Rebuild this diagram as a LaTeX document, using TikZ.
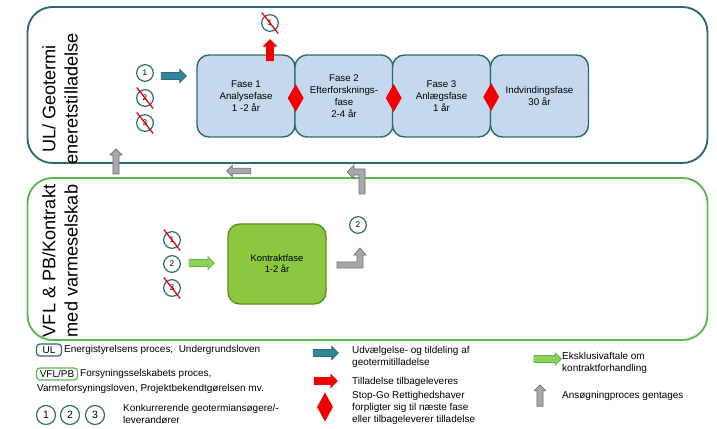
\documentclass[tikz,border=0pt]{standalone}
\usepackage{fontspec}
\setmainfont{Liberation Sans}
\usetikzlibrary{shapes.geometric,shapes.arrows,calc}

\definecolor{ulteal}{RGB}{45,106,112}
\definecolor{arrowteal}{RGB}{49,133,155}
\definecolor{phaseblue}{RGB}{198,216,238}
\definecolor{vflgreen}{RGB}{92,182,84}
\definecolor{kontraktgreen}{RGB}{141,198,63}
\definecolor{kontraktedge}{RGB}{84,150,46}
\definecolor{arrowgreen}{RGB}{146,208,80}
\definecolor{stopred}{RGB}{240,0,0}
\definecolor{repgray}{RGB}{168,168,172}
\definecolor{repedge}{RGB}{112,112,118}

\begin{document}
\begin{tikzpicture}[x=0.03cm,y=-0.03cm,
  frame/.style={rounded corners=7.5mm,line width=1.6pt,minimum width=20.4cm},
  sidelabel/.style={rotate=90,align=center,font=\fontsize{15.5}{19}\selectfont},
  phase/.style={draw=ulteal,line width=1.2pt,fill=phaseblue,rounded corners=3.6mm,minimum width=2.94cm,minimum height=2.46cm,align=center,font=\fontsize{8.3}{10.2}\selectfont},
  num/.style={circle,draw=ulteal,line width=1pt,fill=white,inner sep=0pt,minimum size=5mm,font=\fontsize{7}{7}\selectfont},
  legnum/.style={num,minimum size=5.7mm,font=\fontsize{9}{9}\selectfont},
  slash/.style={draw=stopred,line width=1.1pt},
  stopgo/.style={diamond,fill=stopred,inner sep=0pt,minimum width=4.8mm,minimum height=8.4mm},
  blockarrow/.style={single arrow,inner sep=0pt,text depth=0pt,line width=0.6pt},
  tealarrow/.style={blockarrow,fill=arrowteal,draw=ulteal,text height=1.9mm,single arrow head extend=0.9mm,minimum height=7.5mm},
  redarrow/.style={blockarrow,fill=stopred,text height=2.1mm,single arrow head extend=1.1mm,minimum height=6.6mm},
  greenarrow/.style={blockarrow,fill=arrowgreen,draw=vflgreen,text height=1.9mm,single arrow head extend=0.8mm,minimum height=7.5mm},
  grayarrow/.style={blockarrow,fill=repgray,draw=repedge,text height=1.6mm,single arrow head extend=0.9mm,minimum height=7.5mm},
  legbox/.style={rounded corners=1mm,line width=1pt,inner xsep=1.5pt,inner ysep=0pt,minimum height=3.6mm,font=\fontsize{8.5}{10}\selectfont},
  legtext/.style={anchor=west,inner sep=0pt,align=left,font=\fontsize{8.5}{10.2}\selectfont}]

\useasboundingbox (0,0) rectangle (717,429);

\node[frame,draw=ulteal,minimum height=4.68cm] (ulframe) at (367.5,85) {};
\node[frame,draw=vflgreen,minimum height=4.86cm] (vflframe) at (367.5,259) {};
\node[sidelabel] (ullabel) at (60,99) {UL/ Geotermi\\eneretstilladelse};
\node[sidelabel] (vfllabel) at (60,261) {VFL \& PB/Kontrakt\\med varmeselskab};

\node[phase] (fase1) at (246,96) {Fase 1\\Analysefase\\1 -2 år};
\node[phase] (fase2) at (344,96) {Fase 2\\Efterforsknings-\\fase\\2-4 år};
\node[phase] (fase3) at (441.5,96) {Fase 3\\Anlægsfase\\1 år};
\node[phase] (indv) at (539.5,96) {Indvindingsfase\\30 år};
\node[stopgo] (go1) at ($(fase1.east)+(0,2)$) {};
\node[stopgo] (go2) at ($(fase2.east)+(0,2)$) {};
\node[stopgo] (go3) at ($(fase3.east)+(0,1)$) {};

\node[num] (ul1) at (145,73) {1};
\node[num] (ul2) at (145,98) {2};
\node[num] (ul3) at (145,123) {3};
\node[tealarrow] (ulsel) at (172,76) {};
\node[num] (ulback) at (270,23) {1};
\node[redarrow,rotate=90] (ulret) at (270,52) {};

\node[num] (vfl1) at (172,240) {1};
\node[num] (vfl2) at (172,264) {2};
\node[num] (vfl3) at (172,288) {3};
\node[greenarrow] (vflsel) at (200,263) {};
\node[draw=kontraktedge,line width=1.2pt,fill=kontraktgreen,rounded corners=3.6mm,minimum width=2.94cm,minimum height=2.4cm,align=center,font=\fontsize{8}{9.5}\selectfont] (kontrakt) at (277,264) {Kontraktfase\\1-2 år};
\node[num] (vflnext) at (358,225) {2};

\foreach \c in {ul2,ul3,ulback,vfl1,vfl3}
  \draw[slash] ($(\c)+(128:0.4cm)$) -- ($(\c)+(-52:0.4cm)$);

\node[grayarrow,rotate=90] (repup) at (116,163) {};
\node[grayarrow,rotate=180,minimum height=7.2mm,text height=1.4mm] (repleft) at (240,171) {};
\draw[fill=repgray,draw=repedge,line width=0.6pt] (359,194) -- (365,194) -- (365,169) -- (354,169) -- (354,165) -- (347,172) -- (354,179) -- (354,175) -- (359,175) -- cycle;
\draw[fill=repgray,draw=repedge,line width=0.6pt] (337,262) -- (357,262) -- (357,255) -- (354,255) -- (360,248) -- (366,255) -- (363,255) -- (363,268) -- (337,268) -- cycle;

\node[legbox,draw=ulteal,minimum width=7.5mm] (legul) at (49,350) {UL};
\node[legtext] (legultext) at (64,350) {Energistyrelsens proces,\ \ Undergrundsloven};
\node[legbox,draw=vflgreen,minimum width=12.3mm] (legvfl) at (57,374) {VFL/PB};
\node[legtext] (legvfltext) at (80,374) {Forsyningsselskabets proces,};
\node[legtext] (legvfltext2) at (37,389) {Varmeforsyningsloven, Projektbekendtgørelsen mv.};
\node[legnum] (leg1) at (46,415) {1};
\node[legnum] (leg2) at (70,415) {2};
\node[legnum] (leg3) at (95,415) {3};
\node[legtext] (legnumtext) at (123,414) {Konkurrerende geotermiansøgere/-\\leverandører};

\node[tealarrow] (legsel) at (324,353) {};
\node[legtext] (legseltext) at (352,357) {Udvælgelse- og tildeling af\\geotermitilladelse};
\node[redarrow,minimum height=7.2mm] (legret) at (324,381) {};
\node[legtext] (legrettext) at (352,382) {Tilladelse tilbageleveres};
\node[stopgo,minimum height=8.8mm] (leggo) at (325,407) {};
\node[legtext] (leggotext) at (352,408) {Stop-Go Rettighedshaver\\forpligter sig til næste fase\\eller tilbageleverer tilladelse};
\node[greenarrow,minimum height=8.2mm] (legexcl) at (546,359) {};
\node[legtext] (legexcltext) at (562,363) {Eksklusivaftale om\\kontraktforhandling};
\node[grayarrow,rotate=90,minimum height=6.4mm] (legrep) at (540,397) {};
\node[legtext] (legreptext) at (562,396) {Ansøgningproces gentages};
\end{tikzpicture}
\end{document}
